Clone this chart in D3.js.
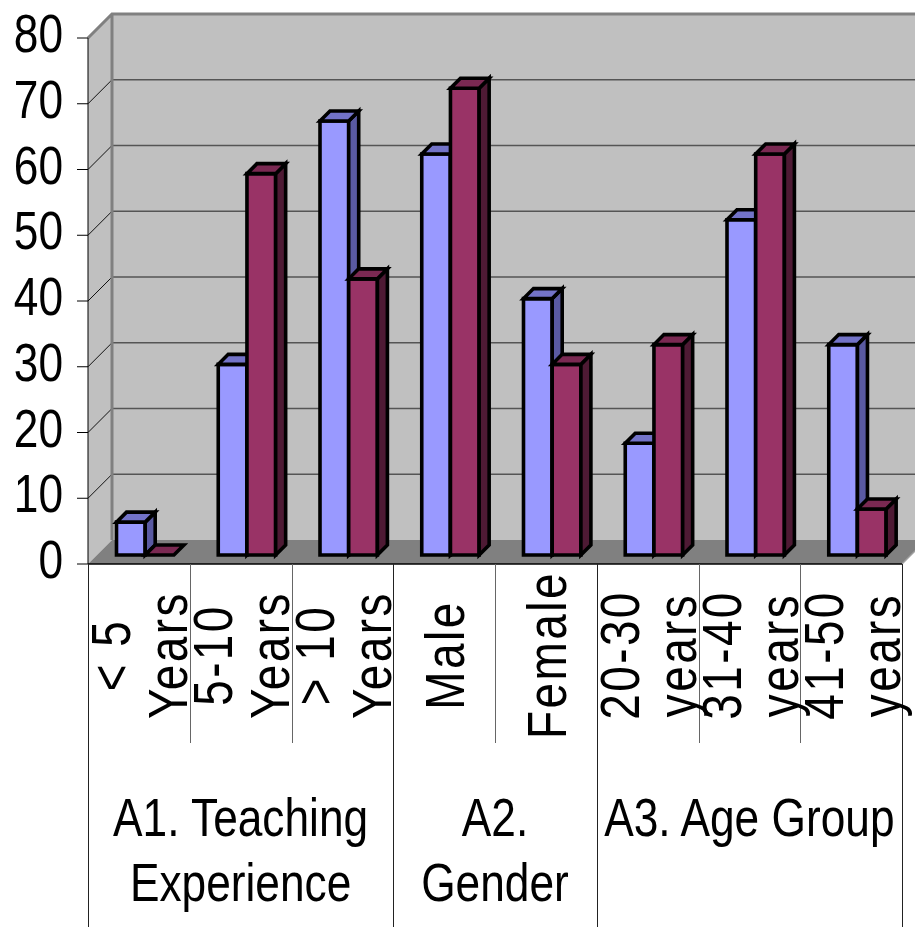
<!DOCTYPE html>
<html>
<head>
<meta charset="utf-8">
<script src="https://cdn.jsdelivr.net/npm/d3@7"></script>
<style>
  html, body { margin: 0; padding: 0; background: #ffffff; }
  svg { display: block; }
  text { font-family: "Liberation Sans", Arial, sans-serif; fill: #000; }
</style>
</head>
<body>
<svg id="chart" width="915" height="927"></svg>
<script>
// Category labels (each entry is a list of wrapped lines)
const categoryLines = [
  ["< 5", "Years"], ["5-10", "Years"], ["> 10", "Years"],
  ["Male"], ["Female"],
  ["20-30", "years"], ["31-40", "years"], ["41-50", "years"]
];
const categories = categoryLines.map(d => d.join(" "));

// Two series of percentages
const seriesA = [5, 29, 66, 61, 39, 17, 51, 32];
const seriesB = [0, 58, 42, 71, 29, 32, 61, 7];

// Category groups shown in the second label row
const groupLines = [["A1. Teaching", "Experience"], ["A2.", "Gender"], ["A3. Age Group"]];
const groupSizes = [3, 2, 3];

// Value axis ticks
const yTicks = [0, 10, 20, 30, 40, 50, 60, 70, 80];

const svg = d3.select("#chart");

// Layout of the oblique 3D frame
const left = 88, right = 902;
const depth = 24;             // wall depth offset (x right, y up)
const zFront = 9, zBack = 19; // bar depth inside the floor
const narrow = 0.82;          // condensed glyph width

const y = d3.scaleLinear().domain([0, 80]).range([564, 38]);
const x = d3.scaleBand().domain(categories).range([left, right]).padding(0);
const xs = d3.scaleBand().domain(["A", "B"]).range([0, 57.4]);

const wallFill = "#c0c0c0", floorFill = "#808080", edge = "#808080";

// Back wall
svg.append("rect")
  .attr("x", left + depth).attr("y", y(80) - depth)
  .attr("width", 915 - left - depth + 10).attr("height", y(0) - y(80))
  .attr("fill", wallFill);

// Left side wall
svg.append("polygon")
  .attr("points", [[left, y(80)], [left + depth, y(80) - depth], [left + depth, y(0) - depth], [left, y(0)]].join(" "))
  .attr("fill", wallFill);

// Floor
svg.append("polygon")
  .attr("points", [[left, y(0)], [right, y(0)], [right + depth, y(0) - depth], [left + depth, y(0) - depth]].join(" "))
  .attr("fill", floorFill);

// Gridlines on back wall and side wall
const grid = svg.append("g");
yTicks.filter(t => t > 0 && t < 80).forEach(t => {
  grid.append("line")
    .attr("x1", left + depth).attr("x2", 915)
    .attr("y1", y(t) - depth).attr("y2", y(t) - depth)
    .attr("stroke", "#555").attr("stroke-width", 1.5);
});
yTicks.filter(t => t > 0).forEach(t => {
  grid.append("line")
    .attr("x1", left).attr("y1", y(t))
    .attr("x2", left + depth).attr("y2", y(t) - depth)
    .attr("stroke", "#111").attr("stroke-width", 1);
});

// Wall edges
svg.append("path")
  .attr("d", `M${left},${y(80)} L${left + depth},${y(80) - depth} L915,${y(80) - depth} M${left + depth},${y(80) - depth} L${left + depth},${y(0) - depth}`)
  .attr("fill", "none").attr("stroke", edge).attr("stroke-width", 3);
svg.append("line")
  .attr("x1", right).attr("y1", y(0)).attr("x2", right + depth).attr("y2", y(0) - depth)
  .attr("stroke", "#a0a0a0").attr("stroke-width", 1.5);

// Value axis
const yAxis = svg.append("g");
yAxis.append("line")
  .attr("x1", left).attr("x2", left).attr("y1", y(80)).attr("y2", y(0))
  .attr("stroke", "#000").attr("stroke-width", 1);
yTicks.forEach(t => {
  yAxis.append("line")
    .attr("x1", left - 11).attr("x2", left).attr("y1", y(t)).attr("y2", y(t))
    .attr("stroke", "#000").attr("stroke-width", 1);
  yAxis.append("text")
    .attr("transform", `translate(63,${y(t) + 14}) scale(${narrow},1)`)
    .attr("text-anchor", "end")
    .attr("font-size", 54)
    .text(t);
});

// 3D columns
const palettes = {
  A: { front: "#9999ff", top: "#7373c8", side: "#5a5aa2" },
  B: { front: "#993366", top: "#7a2952", side: "#4e1a34" }
};
const bars = svg.append("g");
categories.forEach((c, i) => {
  [["A", seriesA[i]], ["B", seriesB[i]]].forEach(([s, v]) => {
    const x0 = x(c) + 19.5 + xs(s);
    const x1 = x0 + xs.bandwidth();
    const yb = y(0), yt = y(v);
    const p = (px, py, z) => [px + z, py - z];
    const col = palettes[s];
    const g = bars.append("g")
      .attr("stroke", "#000").attr("stroke-width", 3.6).attr("stroke-linejoin", "miter");
    if (v > 0) {
      // front face
      g.append("polygon")
        .attr("points", [p(x0, yb, zFront), p(x1, yb, zFront), p(x1, yt, zFront), p(x0, yt, zFront)].join(" "))
        .attr("fill", col.front);
      // side face
      g.append("polygon")
        .attr("points", [p(x1, yb, zFront), p(x1, yb, zBack), p(x1, yt, zBack), p(x1, yt, zFront)].join(" "))
        .attr("fill", col.side);
    }
    // top face
    g.append("polygon")
      .attr("points", [p(x0, yt, zFront), p(x1, yt, zFront), p(x1, yt, zBack), p(x0, yt, zBack)].join(" "))
      .attr("fill", col.top);
  });
});

// Category axis baseline
svg.append("line")
  .attr("x1", left).attr("x2", right).attr("y1", y(0)).attr("y2", y(0))
  .attr("stroke", "#000").attr("stroke-width", 1.5);

// Label table dividers
const groupEdges = [0];
groupSizes.forEach(n => groupEdges.push(groupEdges[groupEdges.length - 1] + n));
const bandW = x.bandwidth();
for (let k = 0; k <= categories.length; k++) {
  const xx = Math.round(left + k * bandW) + 0.5;
  const full = groupEdges.includes(k);
  svg.append("line")
    .attr("x1", xx).attr("x2", xx)
    .attr("y1", y(0)).attr("y2", full ? 927 : 743)
    .attr("stroke", full ? "#222" : "#666").attr("stroke-width", 1);
}

// Rotated category labels
categories.forEach((c, i) => {
  const lines = categoryLines[i];
  const cx = x(c) + bandW / 2;
  const spacing = 57;
  lines.forEach((ln, j) => {
    const bx = cx + 20 + (j - (lines.length - 1) / 2) * spacing;
    svg.append("text")
      .attr("transform", `translate(${bx},655) rotate(-90) scale(${narrow},1)`)
      .attr("text-anchor", "middle")
      .attr("font-size", 56)
      .attr("letter-spacing", 3)
      .text(ln);
  });
});

// Group labels
groupLines.forEach((lines, gi) => {
  const gx = left + (groupEdges[gi] + groupEdges[gi + 1]) / 2 * bandW;
  lines.forEach((ln, j) => {
    svg.append("text")
      .attr("transform", `translate(${gx},${836 + j * 65}) scale(${narrow},1)`)
      .attr("text-anchor", "middle")
      .attr("font-size", 54)
      .text(ln);
  });
});
</script>
</body>
</html>
